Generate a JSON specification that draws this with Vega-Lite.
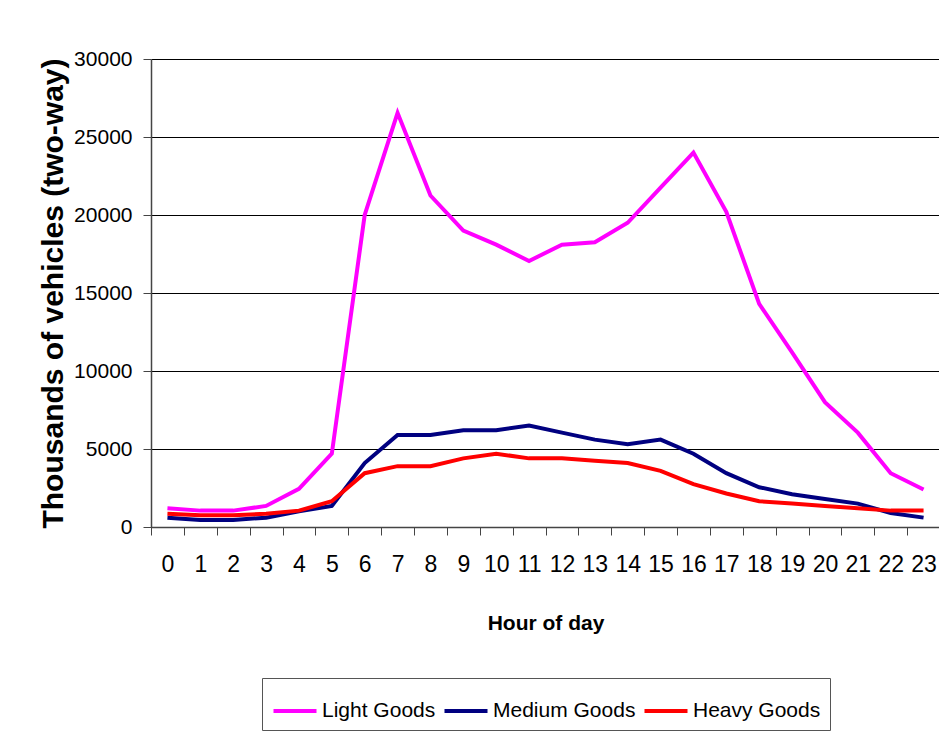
{
  "$schema": "https://vega.github.io/schema/vega-lite/v6.json",
  "autosize": "none",
  "width": 789,
  "height": 468,
  "padding": {"left": 151, "top": 59, "right": 0, "bottom": 208},
  "background": "white",
  "config": {
    "view": {"stroke": null},
    "font": "Liberation Sans"
  },
  "data": {
    "values": [
      {"hour": 0, "series": "Light Goods", "value": 1200},
      {"hour": 1, "series": "Light Goods", "value": 1050},
      {"hour": 2, "series": "Light Goods", "value": 1050},
      {"hour": 3, "series": "Light Goods", "value": 1350},
      {"hour": 4, "series": "Light Goods", "value": 2450},
      {"hour": 5, "series": "Light Goods", "value": 4700},
      {"hour": 6, "series": "Light Goods", "value": 20000},
      {"hour": 7, "series": "Light Goods", "value": 26550},
      {"hour": 8, "series": "Light Goods", "value": 21250},
      {"hour": 9, "series": "Light Goods", "value": 19000},
      {"hour": 10, "series": "Light Goods", "value": 18100},
      {"hour": 11, "series": "Light Goods", "value": 17050},
      {"hour": 12, "series": "Light Goods", "value": 18100},
      {"hour": 13, "series": "Light Goods", "value": 18250},
      {"hour": 14, "series": "Light Goods", "value": 19500},
      {"hour": 15, "series": "Light Goods", "value": 21750},
      {"hour": 16, "series": "Light Goods", "value": 24000},
      {"hour": 17, "series": "Light Goods", "value": 20200},
      {"hour": 18, "series": "Light Goods", "value": 14300},
      {"hour": 19, "series": "Light Goods", "value": 11200},
      {"hour": 20, "series": "Light Goods", "value": 8000},
      {"hour": 21, "series": "Light Goods", "value": 6050},
      {"hour": 22, "series": "Light Goods", "value": 3450},
      {"hour": 23, "series": "Light Goods", "value": 2400},
      {"hour": 0, "series": "Medium Goods", "value": 600},
      {"hour": 1, "series": "Medium Goods", "value": 450},
      {"hour": 2, "series": "Medium Goods", "value": 450},
      {"hour": 3, "series": "Medium Goods", "value": 600},
      {"hour": 4, "series": "Medium Goods", "value": 1000},
      {"hour": 5, "series": "Medium Goods", "value": 1350},
      {"hour": 6, "series": "Medium Goods", "value": 4100},
      {"hour": 7, "series": "Medium Goods", "value": 5900},
      {"hour": 8, "series": "Medium Goods", "value": 5900},
      {"hour": 9, "series": "Medium Goods", "value": 6200},
      {"hour": 10, "series": "Medium Goods", "value": 6200},
      {"hour": 11, "series": "Medium Goods", "value": 6500},
      {"hour": 12, "series": "Medium Goods", "value": 6050},
      {"hour": 13, "series": "Medium Goods", "value": 5600},
      {"hour": 14, "series": "Medium Goods", "value": 5300},
      {"hour": 15, "series": "Medium Goods", "value": 5600},
      {"hour": 16, "series": "Medium Goods", "value": 4700},
      {"hour": 17, "series": "Medium Goods", "value": 3450},
      {"hour": 18, "series": "Medium Goods", "value": 2550},
      {"hour": 19, "series": "Medium Goods", "value": 2100},
      {"hour": 20, "series": "Medium Goods", "value": 1800},
      {"hour": 21, "series": "Medium Goods", "value": 1500},
      {"hour": 22, "series": "Medium Goods", "value": 900},
      {"hour": 23, "series": "Medium Goods", "value": 600},
      {"hour": 0, "series": "Heavy Goods", "value": 850},
      {"hour": 1, "series": "Heavy Goods", "value": 750},
      {"hour": 2, "series": "Heavy Goods", "value": 750},
      {"hour": 3, "series": "Heavy Goods", "value": 850},
      {"hour": 4, "series": "Heavy Goods", "value": 1050},
      {"hour": 5, "series": "Heavy Goods", "value": 1650},
      {"hour": 6, "series": "Heavy Goods", "value": 3450},
      {"hour": 7, "series": "Heavy Goods", "value": 3900},
      {"hour": 8, "series": "Heavy Goods", "value": 3900},
      {"hour": 9, "series": "Heavy Goods", "value": 4400},
      {"hour": 10, "series": "Heavy Goods", "value": 4700},
      {"hour": 11, "series": "Heavy Goods", "value": 4400},
      {"hour": 12, "series": "Heavy Goods", "value": 4400},
      {"hour": 13, "series": "Heavy Goods", "value": 4250},
      {"hour": 14, "series": "Heavy Goods", "value": 4100},
      {"hour": 15, "series": "Heavy Goods", "value": 3600},
      {"hour": 16, "series": "Heavy Goods", "value": 2750},
      {"hour": 17, "series": "Heavy Goods", "value": 2150},
      {"hour": 18, "series": "Heavy Goods", "value": 1650},
      {"hour": 19, "series": "Heavy Goods", "value": 1500},
      {"hour": 20, "series": "Heavy Goods", "value": 1350},
      {"hour": 21, "series": "Heavy Goods", "value": 1200},
      {"hour": 22, "series": "Heavy Goods", "value": 1050},
      {"hour": 23, "series": "Heavy Goods", "value": 1050}
    ]
  },
  "mark": {"type": "line", "strokeWidth": 4, "strokeJoin": "miter"},
  "encoding": {
    "x": {
      "field": "hour",
      "type": "ordinal",
      "bandPosition": 0.5,
      "scale": {"type": "band", "paddingInner": 0, "paddingOuter": 0},
      "axis": {
        "title": "Hour of day",
        "titleFont": "Liberation Sans",
        "titleFontSize": 21,
        "titleFontWeight": "bold",
        "titleColor": "black",
        "titlePadding": 36,
        "labelFont": "Liberation Sans",
        "labelFontSize": 23,
        "labelColor": "black",
        "labelAngle": 0,
        "labelPadding": 18,
        "tickBand": "extent",
        "tickSize": 8,
        "tickColor": "#444",
        "domainColor": "#444",
        "domainWidth": 1.5,
        "grid": false
      }
    },
    "y": {
      "field": "value",
      "type": "quantitative",
      "scale": {"domain": [0, 30000], "nice": false},
      "axis": {
        "title": "Thousands of vehicles (two-way)",
        "titleFont": "Liberation Sans",
        "titleFontSize": 30,
        "titleFontWeight": "bold",
        "titleColor": "black",
        "titlePadding": 5,
        "values": [0, 5000, 10000, 15000, 20000, 25000, 30000],
        "format": "d",
        "labelFont": "Liberation Sans",
        "labelFontSize": 21,
        "labelColor": "black",
        "labelPadding": 11,
        "tickSize": 8,
        "tickColor": "#444",
        "domainColor": "#444",
        "domainWidth": 1.5,
        "grid": true,
        "gridColor": "black",
        "gridWidth": 1
      }
    },
    "color": {
      "field": "series",
      "type": "nominal",
      "sort": ["Light Goods", "Medium Goods", "Heavy Goods"],
      "scale": {
        "domain": ["Light Goods", "Medium Goods", "Heavy Goods"],
        "range": ["#ff00ff", "#000080", "#ff0000"]
      },
      "legend": {
        "title": null,
        "orient": "none",
        "legendX": 111,
        "legendY": 619,
        "direction": "horizontal",
        "symbolType": "stroke",
        "symbolSize": 1850,
        "symbolStrokeWidth": 4,
        "labelFont": "Liberation Sans",
        "labelFontSize": 21,
        "labelColor": "black",
        "labelOffset": 3,
        "columnPadding": 0,
        "padding": 9,
        "strokeColor": "#555",
        "fillColor": "white"
      }
    }
  }
}
